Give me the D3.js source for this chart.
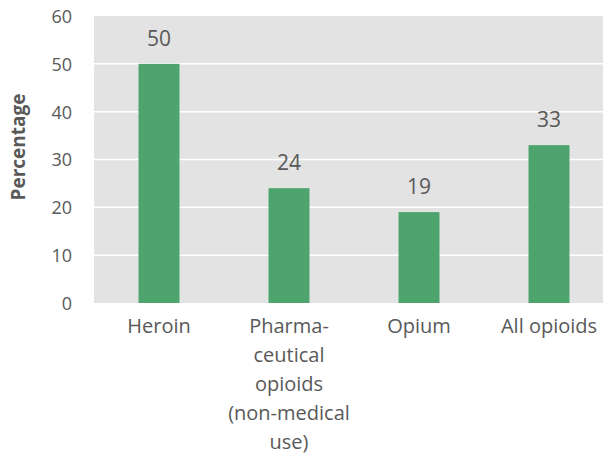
<!DOCTYPE html>
<html><head><meta charset="utf-8">
<script src="https://cdn.jsdelivr.net/npm/d3@7"></script>
<style>html,body{margin:0;padding:0;background:#fff;overflow:hidden}</style>
</head><body>
<script>
const categories = [["Heroin"], ["Pharma-","ceutical","opioids","(non-medical","use)"], ["Opium"], ["All opioids"]];
const values = [50, 24, 19, 33];
const yTicks = [0, 10, 20, 30, 40, 50, 60];

const W = 603, H = 459;
const m = {left: 94, top: 16, right: 614, bottom: 303};
const svg = d3.select("body").append("svg").attr("width", W).attr("height", H);
const font = "'Open Sans', sans-serif";
const txt = "#595959";

const x = d3.scaleBand().domain(d3.range(categories.length)).range([m.left, m.right]).paddingInner(0.685).paddingOuter(0.3425);
const y = d3.scaleLinear().domain([0, 60]).range([m.bottom, m.top]);

svg.append("rect").attr("x", m.left).attr("y", m.top).attr("width", m.right - m.left).attr("height", m.bottom - m.top).attr("fill", "#e3e3e3");

svg.append("g").selectAll("line").data(yTicks.filter(d => d > 0 && d < 60)).join("line")
  .attr("x1", m.left).attr("x2", m.right).attr("y1", d => y(d)).attr("y2", d => y(d))
  .attr("stroke", "#ffffff").attr("stroke-width", 1.5);

const yAxis = svg.append("g").attr("transform", `translate(${m.left},0)`)
  .call(d3.axisLeft(y).tickValues(yTicks).tickSize(0).tickPadding(22));
yAxis.select(".domain").remove();
yAxis.selectAll("text").attr("font-family", font).attr("font-size", 18).attr("fill", txt).attr("dy", "0.36em");

svg.append("g").selectAll("rect").data(values).join("rect")
  .attr("x", (d, i) => x(i)).attr("width", x.bandwidth())
  .attr("y", d => y(d)).attr("height", d => y(0) - y(d))
  .attr("fill", "#4da46c");

svg.append("g").selectAll("text").data(values).join("text")
  .attr("x", (d, i) => x(i) + x.bandwidth() / 2).attr("y", d => y(d) - 18)
  .attr("text-anchor", "middle").attr("font-family", font).attr("font-size", 21).attr("fill", txt)
  .text(d => d);

const cat = svg.append("g").selectAll("text").data(categories).join("text")
  .attr("x", (d, i) => x(i) + x.bandwidth() / 2).attr("y", 333)
  .attr("text-anchor", "middle").attr("font-family", font).attr("font-size", 20).attr("fill", txt);
cat.selectAll("tspan").data(d => d).join("tspan")
  .attr("x", function() { return this.parentNode.getAttribute("x"); })
  .attr("dy", (d, j) => j === 0 ? 0 : 29).text(d => d);

svg.append("text").attr("transform", `translate(25,147) rotate(-90)`)
  .attr("text-anchor", "middle").attr("font-family", font).attr("font-size", 19).attr("font-weight", "bold").attr("fill", txt)
  .text("Percentage");
</script>
</body></html>
